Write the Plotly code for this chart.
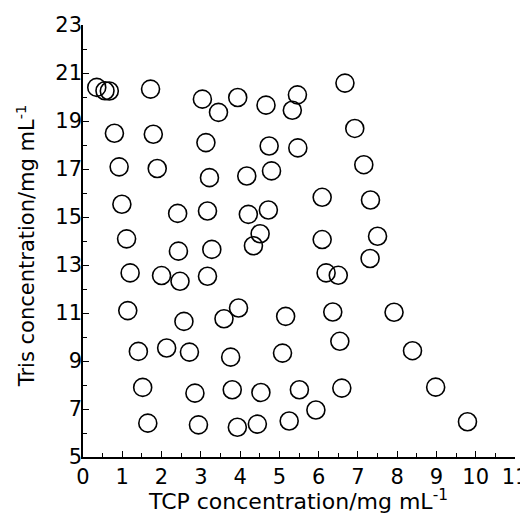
import plotly.graph_objects as go

tcp = [0.35, 0.56, 0.67, 1.72, 0.80, 1.79, 0.92, 1.89, 0.99, 1.11, 2.41,
       3.04, 3.45, 3.94, 3.13, 3.22, 3.17, 4.17, 4.21,
       4.66, 5.46, 5.33, 6.67, 4.74, 5.47, 6.92, 4.80, 7.15, 4.72, 6.09, 7.32,
       4.51, 4.34, 6.09, 7.50,
       2.43, 3.28, 1.20, 2.00, 2.47, 3.17, 1.14, 2.57, 3.59, 3.96,
       1.41, 2.13, 2.71, 3.76, 1.52, 2.85, 3.80, 4.53, 1.65, 2.94, 3.93, 4.44,
       7.31, 6.19, 6.50, 5.16, 6.36, 7.92, 5.08, 6.54, 8.39,
       5.51, 6.59, 8.98, 5.93, 5.25, 9.79]
tris = [20.40, 20.26, 20.25, 20.33, 18.49, 18.45, 17.09, 17.02, 15.53, 14.09, 15.15,
        19.91, 19.36, 19.98, 18.10, 16.64, 15.25, 16.71, 15.11,
        19.66, 20.09, 19.45, 20.58, 17.96, 17.88, 18.69, 16.92, 17.18, 15.29, 15.82, 15.71,
        14.30, 13.80, 14.06, 14.20,
        13.58, 13.65, 12.67, 12.56, 12.32, 12.53, 11.10, 10.65, 10.76, 11.21,
        9.40, 9.54, 9.37, 9.16, 7.90, 7.66, 7.80, 7.69, 6.41, 6.34, 6.24, 6.37,
        13.27, 12.67, 12.57, 10.86, 11.04, 11.03, 9.33, 9.82, 9.43,
        7.80, 7.87, 7.91, 6.96, 6.50, 6.47]

x_ticks = list(range(0, 12))
y_ticks = list(range(5, 24, 2))
x_title = "TCP concentration/mg mL<sup>-1</sup>"
y_title = "Tris concentration/mg mL<sup>-1</sup>"

fig = go.Figure()
fig.add_trace(go.Scatter(
    x=tcp, y=tris, mode="markers",
    marker=dict(symbol="circle-open", size=18, color="black",
                line=dict(width=1.6, color="black")),
    showlegend=False,
))

family = "DejaVu Sans, Liberation Sans, Arial, sans-serif"
font = dict(family=family, size=21, color="black")
xt_font = dict(family=family, size=22, color="black")
yt_font = dict(family=family, size=21, color="black")

common = dict(
    tickmode="array", ticks="inside", ticklen=6, tickwidth=1.3, tickcolor="black",
    showline=True, linewidth=1.5, linecolor="black", mirror=False,
    showgrid=False, zeroline=False, automargin=False, tickfont=font,
    ticklabeloverflow="allow",
)

# page body adds an 8px offset, so the figure is 8px smaller than the window
fig.update_layout(
    width=520, height=513,
    margin=dict(l=75, r=13, t=17, b=64),
    paper_bgcolor="white", plot_bgcolor="white",
    font=font,
    xaxis=dict(range=[0, 11], tickvals=x_ticks,
               minor=dict(dtick=0.5, ticks="inside", ticklen=4, tickwidth=1.2,
                          tickcolor="black", showgrid=False),
               **common),
    yaxis=dict(range=[5, 23], tickvals=y_ticks, ticklabelstandoff=-5,
               minor=dict(dtick=1, ticks="inside", ticklen=4, tickwidth=1.2,
                          tickcolor="black", showgrid=False),
               **common),
    annotations=[
        dict(text=x_title, xref="paper", yref="paper", x=0.497, y=-0.10,
             xanchor="center", yanchor="middle", showarrow=False, font=xt_font),
        dict(text=y_title, xref="paper", yref="paper", x=-0.132, y=0.49,
             xanchor="center", yanchor="middle", showarrow=False, font=yt_font,
             textangle=-90),
    ],
)

fig.write_html("out.html")
